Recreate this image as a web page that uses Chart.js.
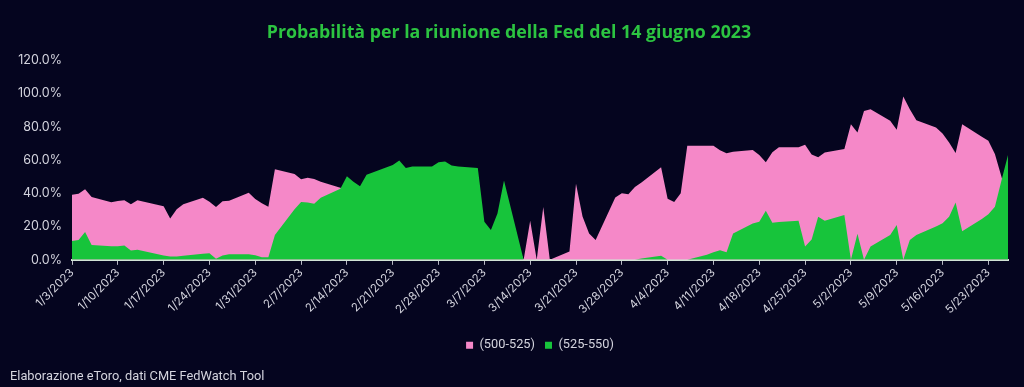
<!DOCTYPE html>
<html lang="it">
<head>
<meta charset="utf-8">
<title>Probabilità Fed 14 giugno 2023</title>
<script src="https://cdn.jsdelivr.net/npm/chart.js@4.4.1/dist/chart.umd.min.js"></script>
<style>
  html, body { margin: 0; padding: 0; background: #05051f; }
  #wrap { width: 1024px; height: 387px; position: relative; }
</style>
</head>
<body>
<div id="wrap"><canvas id="fedChart"></canvas></div>
<script>
// Trading days (M/D, 2023)
const DATES = [
  '1/3', '1/4', '1/5', '1/6', '1/9', '1/10', '1/11', '1/12', '1/13', '1/17',
  '1/18', '1/19', '1/20', '1/23', '1/24', '1/25', '1/26', '1/27', '1/30', '1/31',
  '2/1', '2/2', '2/3', '2/6', '2/7', '2/8', '2/9', '2/10', '2/13', '2/14',
  '2/15', '2/16', '2/17', '2/21', '2/22', '2/23', '2/24', '2/27', '2/28',
  '3/1', '3/2', '3/3', '3/6', '3/7', '3/8', '3/9', '3/10', '3/13', '3/14',
  '3/15', '3/16', '3/17', '3/20', '3/21', '3/22', '3/23', '3/24', '3/27', '3/28',
  '3/29', '3/30', '3/31',
  '4/3', '4/4', '4/5', '4/6', '4/7', '4/10', '4/11', '4/12', '4/13', '4/14',
  '4/17', '4/18', '4/19', '4/20', '4/21', '4/24', '4/25', '4/26', '4/27', '4/28',
  '5/1', '5/2', '5/3', '5/4', '5/5', '5/8', '5/9', '5/10', '5/11', '5/12',
  '5/15', '5/16', '5/17', '5/18', '5/19', '5/22', '5/23', '5/24', '5/25', '5/26',
];

// (500-525) probability, %
const RANGE_500_525 = [
  39.2, 39.8, 42.4, 37.8, 34.6, 35.4, 35.8, 33.4, 35.8, 32.2,
  24.9, 30.4, 33.4, 37.4, 35.0, 31.8, 35.2, 35.6, 40.4, 36.6,
  34.0, 32.0, 54.5, 51.7, 48.5, 49.4, 48.6, 47.0, 43.4, 42.0,
  42.0, 40.0, 40.0, 38.0, 38.0, 39.0, 39.0, 39.0, 37.0,
  37.0, 38.0, 38.0, 35.0, 10.0, 9.0, 12.0, 30.0, 0.0, 23.5,
  0.0, 31.8, 0.0, 5.0, 45.8, 26.0, 15.9, 11.9, 37.5, 40.0,
  39.5, 43.8, 46.5,
  55.7, 36.8, 34.8, 40.0, 68.7, 68.7, 68.7, 66.0, 64.1, 65.0,
  66.1, 63.0, 58.7, 64.7, 67.7, 67.7, 69.3, 63.3, 61.7, 64.5,
  66.7, 81.6, 76.6, 89.5, 90.6, 83.6, 78.3, 98.2, 90.6, 84.0,
  79.6, 76.0, 70.6, 64.2, 81.6, 74.0, 71.6, 63.7, 50.0, 36.0,
];

// (525-550) probability, %
const RANGE_525_550 = [
  11.3, 11.9, 16.7, 9.0, 8.2, 8.2, 8.6, 5.6, 6.0, 2.6,
  2.0, 2.0, 2.4, 3.6, 4.0, 0.6, 2.6, 3.4, 3.4, 2.8,
  1.6, 1.6, 14.9, 30.4, 34.8, 34.5, 33.8, 37.4, 42.8, 50.3,
  47.0, 44.2, 51.2, 57.0, 59.7, 55.3, 56.1, 56.1, 58.7,
  59.1, 56.7, 56.2, 55.3, 22.9, 17.9, 27.9, 47.8, 0.0, 0.0,
  0.0, 0.0, 0.0, 0.0, 0.0, 0.0, 0.0, 0.0, 0.0, 0.0,
  0.0, 0.0, 0.8,
  2.4, 0.0, 0.0, 0.0, 0.0, 3.0, 4.6, 5.8, 4.6, 15.9,
  21.9, 22.9, 29.5, 22.3, 22.8, 23.5, 8.0, 12.3, 25.9, 23.5,
  27.0, 0.0, 15.7, 0.0, 8.0, 15.0, 21.0, 0.0, 12.0, 15.0,
  20.0, 22.0, 25.9, 34.5, 17.2, 24.5, 27.4, 32.0, 47.8, 63.0,
];

const Y_TICKS = [0, 20, 40, 60, 80, 100, 120];
const LAST_DAY = '5/26';

const COLORS = {
  bg: '#05051f',
  pink: '#f588c8',
  green: '#17c43b',
  title: '#2cc441',
  text: '#d4d4de',
  axis: '#d2e4d6',
};

const NARROW = "Roboto, 'Open Sans', sans-serif";

const START = Date.UTC(2023, 0, 3);
const DAY_MS = 86400000;

/** M/D string -> days since 1/3/2023 */
function dayIndex(md) {
  const [m, d] = md.split('/').map(Number);
  return (Date.UTC(2023, m - 1, d) - START) / DAY_MS;
}

/** days since 1/3/2023 -> M/D/YYYY label */
function dayLabel(v) {
  const dt = new Date(START + v * DAY_MS);
  return `${dt.getUTCMonth() + 1}/${dt.getUTCDate()}/${dt.getUTCFullYear()}`;
}

function areaDefaults(color) {
  return {
    backgroundColor: color,
    borderColor: color,
    borderWidth: 0,
    pointRadius: 0,
    pointHoverRadius: 0,
    tension: 0,
    fill: 'origin',
  };
}

const toPoints = values => DATES.map((d, i) => ({ x: dayIndex(d), y: values[i] }));

new Chart(document.getElementById('fedChart'), {
  type: 'line',
  data: {
    datasets: [
      { label: '(500-525)', data: toPoints(RANGE_500_525), ...areaDefaults(COLORS.pink), order: 1 },
      { label: '(525-550)', data: toPoints(RANGE_525_550), ...areaDefaults(COLORS.green), order: 0 },
    ],
  },
  options: {
    responsive: true,
    maintainAspectRatio: false,
    animation: false,
    layout: { padding: { left: 10, right: 16, top: 0, bottom: 0 } },
    plugins: {
      title: {
        display: true,
        text: 'Probabilità per la riunione della Fed del 14 giugno 2023',
        color: COLORS.title,
        font: { family: "'Open Sans', sans-serif", size: 17.8, weight: 'bold' },
        padding: { top: 22, bottom: 17 },
      },
      subtitle: {
        display: true,
        position: 'bottom',
        align: 'start',
        text: 'Elaborazione eToro, dati CME FedWatch Tool',
        color: COLORS.text,
        font: { family: NARROW, size: 12.8 },
        padding: { top: 7, bottom: 3 },
      },
      legend: {
        position: 'bottom',
        fullSize: false,
        labels: {
          color: COLORS.text,
          boxWidth: 7,
          boxHeight: 7,
          padding: 10,
          font: { family: NARROW, size: 12.8 },
          sort: (a, b) => a.datasetIndex - b.datasetIndex,
        },
      },
      tooltip: { enabled: false },
    },
    scales: {
      x: {
        type: 'linear',
        min: 0,
        max: dayIndex(LAST_DAY),
        border: { display: true, color: COLORS.axis, width: 2 },
        grid: { display: true, drawOnChartArea: false, drawTicks: true, tickLength: 5, color: '#b8b8c4' },
        ticks: {
          stepSize: 7,
          includeBounds: false,
          autoSkip: false,
          minRotation: 45,
          maxRotation: 45,
          padding: 1,
          color: COLORS.text,
          font: { family: 'Inter, sans-serif', size: 11.5 },
          callback: v => dayLabel(v),
        },
        afterFit: scale => { scale.height = 69; },
      },
      y: {
        min: 0,
        max: 120,
        border: { display: false },
        grid: { display: false, drawTicks: false },
        afterBuildTicks: scale => { scale.ticks = Y_TICKS.map(value => ({ value })); },
        ticks: {
          padding: 10,
          color: COLORS.text,
          font: { family: 'Inter, sans-serif', size: 12.5 },
          callback: v => v.toFixed(1) + '%',
        },
        afterFit: scale => { scale.width = 62; },
      },
    },
  },
});
</script>
</body>
</html>
